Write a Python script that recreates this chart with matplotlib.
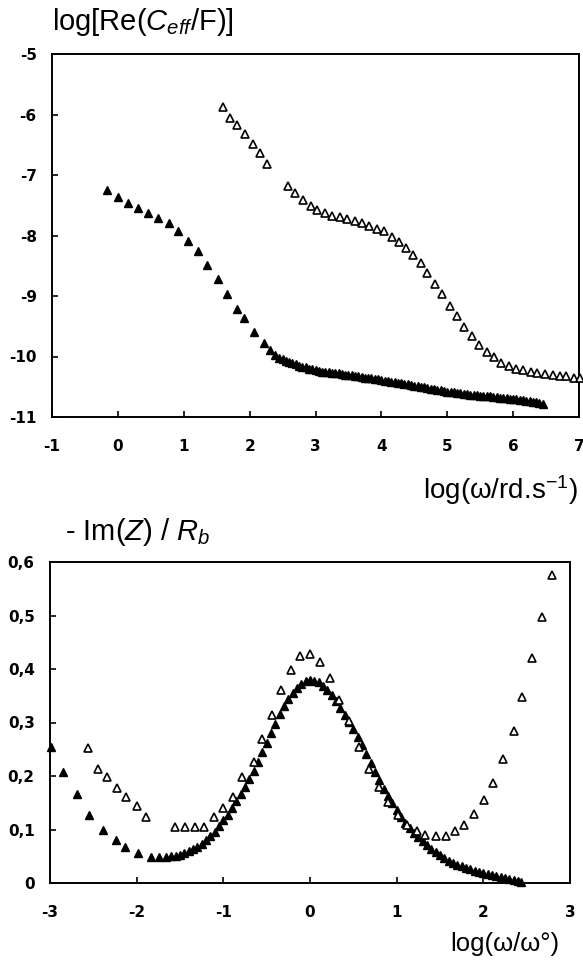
import matplotlib
matplotlib.use('Agg')
import matplotlib.pyplot as plt

plt.rcParams['font.family'] = 'Liberation Sans'
plt.rcParams['mathtext.fontset'] = 'custom'
plt.rcParams['mathtext.rm'] = 'Liberation Sans'
plt.rcParams['mathtext.it'] = 'Liberation Sans:italic'

# --- top panel: log Re(C_eff) vs log(omega) ---
top_filled_x = [-0.16, 0.00, 0.15, 0.31, 0.46, 0.61, 0.77, 0.92, 1.06, 1.21, 1.36,
                1.52, 1.66, 1.81, 1.92, 2.07, 2.22, 2.31, 2.39,
                2.45, 2.50, 2.55, 2.60, 2.65, 2.70, 2.75, 2.80, 2.85, 2.90, 2.95,
                3.00, 3.05, 3.10, 3.15, 3.20, 3.25, 3.30, 3.35, 3.40, 3.45,
                3.50, 3.55, 3.60, 3.65, 3.70, 3.75, 3.80, 3.85, 3.90, 3.95,
                4.00, 4.05, 4.10, 4.15, 4.20, 4.25, 4.30, 4.35, 4.40, 4.45,
                4.50, 4.55, 4.60, 4.65, 4.70, 4.75, 4.80, 4.85, 4.90, 4.95,
                5.00, 5.05, 5.10, 5.15, 5.20, 5.25, 5.30, 5.35, 5.40, 5.45,
                5.50, 5.55, 5.60, 5.65, 5.70, 5.75, 5.80, 5.85, 5.90, 5.95,
                6.00, 6.05, 6.10, 6.15, 6.20, 6.25, 6.30, 6.35, 6.40, 6.45]
top_filled_y = [-7.25, -7.37, -7.46, -7.55, -7.63, -7.71, -7.79, -7.92, -8.09, -8.26, -8.49,
                -8.72, -8.97, -9.22, -9.36, -9.59, -9.78, -9.89, -9.97,
                -10.02, -10.04, -10.07, -10.09, -10.11, -10.13, -10.15, -10.17, -10.18, -10.20, -10.21,
                -10.23, -10.24, -10.25, -10.25, -10.26, -10.27, -10.27, -10.28, -10.29, -10.30,
                -10.30, -10.31, -10.32, -10.33, -10.34, -10.35, -10.36, -10.36, -10.37, -10.38,
                -10.39, -10.40, -10.41, -10.42, -10.42, -10.43, -10.44, -10.45, -10.46, -10.47,
                -10.48, -10.49, -10.50, -10.51, -10.52, -10.53, -10.54, -10.55, -10.56, -10.57,
                -10.58, -10.59, -10.59, -10.60, -10.61, -10.62, -10.62, -10.63, -10.64, -10.64,
                -10.65, -10.65, -10.66, -10.66, -10.67, -10.67, -10.68, -10.68, -10.69, -10.70,
                -10.70, -10.71, -10.72, -10.72, -10.73, -10.74, -10.75, -10.76, -10.77, -10.79]

top_open_x = [1.59, 1.70, 1.81, 1.93, 2.05, 2.16, 2.26,
              2.59, 2.69, 2.815, 2.93, 3.03, 3.14, 3.25, 3.37, 3.48, 3.60, 3.70, 3.815,
              3.93, 4.04, 4.16, 4.26, 4.37, 4.485, 4.60, 4.70, 4.81, 4.925, 5.04, 5.15,
              5.25, 5.37, 5.48, 5.60, 5.71, 5.82, 5.93, 6.04, 6.155, 6.27, 6.37, 6.48,
              6.60, 6.71, 6.81, 6.92, 7.02]
top_open_y = [-5.87, -6.05, -6.17, -6.32, -6.49, -6.64, -6.81,
              -7.19, -7.30, -7.42, -7.52, -7.58, -7.62, -7.68, -7.70, -7.73, -7.76, -7.80, -7.84,
              -7.89, -7.93, -8.02, -8.10, -8.20, -8.32, -8.46, -8.62, -8.80, -8.97, -9.16, -9.33,
              -9.51, -9.66, -9.81, -9.92, -10.01, -10.10, -10.15, -10.20, -10.22, -10.25, -10.28, -10.29,
              -10.31, -10.32, -10.33, -10.35, -10.35]

top_xticks = [-1, 0, 1, 2, 3, 4, 5, 6, 7]
top_yticks = [-5, -6, -7, -8, -9, -10, -11]

# --- bottom panel: -Im(Z)/Rb vs log(omega/omega0) ---
bot_filled_x = [-2.99, -2.85, -2.69, -2.55, -2.39, -2.24, -2.13, -1.99, -1.84, -1.74, -1.66,
                -1.60, -1.55, -1.50, -1.45, -1.40, -1.35, -1.30, -1.25, -1.20, -1.15,
                -1.10, -1.05, -1.00, -0.95, -0.90, -0.85, -0.80, -0.75, -0.70, -0.65,
                -0.60, -0.55, -0.50, -0.45, -0.40, -0.35, -0.30, -0.25, -0.20, -0.15,
                -0.10, -0.05, 0.00, 0.05, 0.10, 0.15, 0.20, 0.25, 0.30, 0.35,
                0.40, 0.45, 0.50, 0.55, 0.60, 0.65, 0.70, 0.75, 0.80, 0.85,
                0.90, 0.95, 1.00, 1.05, 1.10, 1.15, 1.20, 1.25, 1.30, 1.35,
                1.40, 1.45, 1.50, 1.55, 1.60, 1.65, 1.70, 1.75, 1.80, 1.85,
                1.90, 1.95, 2.00, 2.05, 2.10, 2.15, 2.20, 2.25, 2.30, 2.35, 2.40, 2.44]
bot_filled_y = [0.254, 0.208, 0.166, 0.127, 0.099, 0.080, 0.068, 0.056, 0.049, 0.049, 0.049,
                0.050, 0.051, 0.053, 0.056, 0.059, 0.063, 0.068, 0.073, 0.080, 0.087,
                0.096, 0.106, 0.117, 0.128, 0.140, 0.153, 0.166, 0.180, 0.194, 0.209,
                0.226, 0.244, 0.262, 0.280, 0.298, 0.315, 0.330, 0.344, 0.355, 0.365,
                0.372, 0.377, 0.379, 0.378, 0.375, 0.369, 0.361, 0.352, 0.341, 0.328,
                0.314, 0.301, 0.287, 0.273, 0.258, 0.242, 0.225, 0.208, 0.192, 0.176,
                0.162, 0.149, 0.136, 0.124, 0.113, 0.103, 0.094, 0.086, 0.078, 0.071,
                0.064, 0.058, 0.052, 0.047, 0.042, 0.038, 0.034, 0.031, 0.028, 0.026,
                0.023, 0.021, 0.019, 0.017, 0.015, 0.014, 0.012, 0.010, 0.008, 0.006, 0.004, 0.002]

bot_open_x = [-2.56, -2.45, -2.34, -2.23, -2.12, -2.00, -1.89,
              -1.56, -1.44, -1.33, -1.22, -1.11, -1.00, -0.89, -0.78, -0.65, -0.55,
              -0.44, -0.33, -0.22, -0.11, 0.00, 0.11, 0.23, 0.34, 0.45, 0.565,
              0.68, 0.80, 0.90, 1.02, 1.12, 1.23, 1.33, 1.45, 1.57, 1.67,
              1.78, 1.89, 2.01, 2.11, 2.23, 2.35, 2.45, 2.56, 2.68, 2.79]
bot_open_y = [0.252, 0.214, 0.198, 0.178, 0.160, 0.143, 0.124,
              0.105, 0.105, 0.105, 0.105, 0.124, 0.141, 0.160, 0.198, 0.227, 0.269,
              0.314, 0.361, 0.398, 0.425, 0.428, 0.414, 0.383, 0.342, 0.302, 0.255,
              0.214, 0.180, 0.152, 0.127, 0.108, 0.098, 0.090, 0.087, 0.088, 0.097,
              0.108, 0.129, 0.155, 0.187, 0.231, 0.284, 0.347, 0.420, 0.498, 0.576]

bot_xticks = [-3, -2, -1, 0, 1, 2, 3]
bot_yticks = [0, 0.1, 0.2, 0.3, 0.4, 0.5, 0.6]
bot_yticklabels = ['0', '0,1', '0,2', '0,3', '0,4', '0,5', '0,6']

W, H = 583, 967
fig = plt.figure(figsize=(W / 100, H / 100), dpi=100)
ax1 = fig.add_axes([52 / W, 1 - 417 / H, 527 / W, 363 / H])
ax2 = fig.add_axes([50 / W, 1 - 883 / H, 520 / W, 321 / H])

tick_font = dict(family='DejaVu Sans', weight='bold', size=11)


def style(ax):
    for s in ax.spines.values():
        s.set_linewidth(1.4)
    ax.tick_params(direction='in', length=4, width=1.2, top=False, right=False)
    ax.tick_params(axis='x', pad=16)
    ax.tick_params(axis='y', pad=11)


def draw(ax, fx, fy, ox, oy):
    ax.plot(fx, fy, ls='none', marker='^', ms=6, color='black', clip_on=False, zorder=3)
    ax.plot(ox, oy, ls='none', marker='^', ms=5.5, mfc='white', mec='black', mew=1.2,
            clip_on=False, zorder=4)


draw(ax1, top_filled_x, top_filled_y, top_open_x, top_open_y)
ax1.set_xlim(-1, 7)
ax1.set_ylim(-11, -5)
ax1.set_xticks(top_xticks)
ax1.set_xticklabels([str(t) for t in top_xticks], **tick_font)
ax1.set_yticks(top_yticks)
ax1.set_yticklabels([str(t) for t in top_yticks], **tick_font)
style(ax1)

draw(ax2, bot_filled_x, bot_filled_y, bot_open_x, bot_open_y)
ax2.set_xlim(-3, 3)
ax2.set_ylim(0, 0.6)
ax2.set_xticks(bot_xticks)
ax2.set_xticklabels([str(t) for t in bot_xticks], **tick_font)
ax2.set_yticks(bot_yticks)
ax2.set_yticklabels(bot_yticklabels, **tick_font)
style(ax2)

fig.text(52 / W, 1 - 30 / H, r'log[Re($C_{eff}$/F)]', ha='left', va='baseline', fontsize=21)
fig.text(578 / W, 1 - 499 / H, r'log(ω/rd.s$^{-1}$)', ha='right', va='baseline', fontsize=20)
fig.text(65 / W, 1 - 540 / H, r'- Im($Z$) / $R_b$', ha='left', va='baseline', fontsize=21)
fig.text(559 / W, 1 - 951 / H, 'log(ω/ω°)', ha='right', va='baseline', fontsize=18.5)

fig.savefig('out.png', dpi=100)
